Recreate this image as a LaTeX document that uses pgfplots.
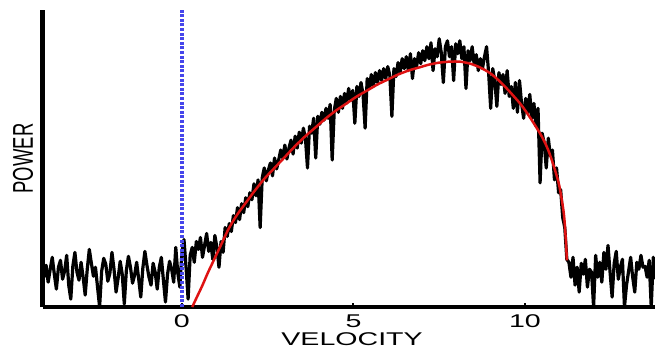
\documentclass[border=0pt]{standalone}
\usepackage{graphicx}
\usepackage{pgfplots}
\pgfplotsset{compat=1.18}
\usepackage{fontspec}
\setmainfont{Liberation Sans}
\definecolor{fitred}{RGB}{222,18,18}
\definecolor{zeroblue}{RGB}{70,70,235}
\begin{document}
\fontsize{18.5}{20}\selectfont
\begin{tikzpicture}
\path[use as bounding box] (-43bp,-41bp) rectangle (612bp,307bp);
\begin{axis}[
  at={(0,0)}, anchor=south west,
  scale only axis, width=612bp, height=297bp,
  xmin=-4.05, xmax=13.79, ymin=0, ymax=299,
  axis x line*=bottom, axis y line*=left,
  x axis line style={-, line width=3.5bp},
  y axis line style={-, line width=5bp},
  xtick={0,5,10},
  xticklabels={{\scalebox{1.55}[1]{0}},{\scalebox{1.55}[1]{5}},{\scalebox{1.55}[1]{10}}},
  ytick=\empty,
  tick align=inside, major tick length=4bp,
  tick style={line width=2bp, black},
  xticklabel style={anchor=center, yshift=-14bp},
  xlabel={\scalebox{1.55}[1]{VELOCITY}},
  ylabel={\scalebox{1}[1.55]{POWER}},
  xlabel style={at={(axis description cs:0.505,-0.108)}, anchor=center},
  ylabel style={at={(axis description cs:-0.0327,0.5)}, anchor=center},
  clip=true,
]
\addplot[black, line width=3.2bp, line join=round] coordinates {
(-4.02,30) (-3.96,42) (-3.90,25) (-3.84,38) (-3.78,50) (-3.72,33) (-3.66,18) (-3.60,40)
(-3.54,47) (-3.48,28) (-3.42,36) (-3.36,52) (-3.30,22) (-3.24,8) (-3.18,41) (-3.12,55)
(-3.06,35) (-3.00,27) (-2.94,45) (-2.88,30) (-2.82,12) (-2.76,38) (-2.70,58) (-2.64,44)
(-2.58,31) (-2.52,40) (-2.46,20) (-2.40,0) (-2.34,36) (-2.28,49) (-2.22,43) (-2.16,26)
(-2.10,34) (-2.04,55) (-1.98,38) (-1.92,15) (-1.86,29) (-1.80,46) (-1.74,33) (-1.68,3)
(-1.62,37) (-1.56,51) (-1.50,40) (-1.44,24) (-1.38,32) (-1.32,45) (-1.26,28) (-1.20,10)
(-1.14,39) (-1.08,56) (-1.02,42) (-0.96,30) (-0.90,22) (-0.84,44) (-0.78,35) (-0.72,18)
(-0.66,40) (-0.60,50) (-0.54,27) (-0.48,5) (-0.42,33) (-0.36,46) (-0.30,38) (-0.24,25)
(-0.18,60) (-0.12,34) (-0.06,20) (0.00,55) (0.06,68) (0.12,40) (0.18,8) (0.24,52)
(0.30,60) (0.36,45) (0.42,66) (0.48,58) (0.54,70) (0.60,50) (0.66,62) (0.72,74)
(0.78,56) (0.84,65) (0.90,48) (0.96,72) (1.02,60) (1.08,40) (1.14,66) (1.20,55)
(1.26,80) (1.32,71) (1.38,84) (1.44,76) (1.50,92) (1.56,85) (1.62,100) (1.68,88)
(1.74,104) (1.80,95) (1.86,110) (1.92,101) (1.98,115) (2.04,108) (2.10,124) (2.16,112)
(2.22,128) (2.28,80) (2.34,130) (2.40,140) (2.46,127) (2.52,138) (2.58,145) (2.64,132)
(2.70,150) (2.76,139) (2.82,148) (2.88,158) (2.94,150) (3.00,163) (3.06,149) (3.12,160)
(3.18,168) (3.24,154) (3.30,172) (3.36,160) (3.42,176) (3.48,165) (3.54,180) (3.60,170)
(3.66,140) (3.72,182) (3.78,175) (3.84,190) (3.90,150) (3.96,192) (4.02,184) (4.08,196)
(4.14,188) (4.20,200) (4.26,190) (4.32,204) (4.38,148) (4.44,198) (4.50,210) (4.56,196)
(4.62,212) (4.68,200) (4.74,215) (4.80,205) (4.86,220) (4.92,208) (4.98,218) (5.04,185)
(5.10,222) (5.16,212) (5.22,226) (5.28,214) (5.34,180) (5.40,230) (5.46,220) (5.52,234)
(5.58,222) (5.64,236) (5.70,226) (5.76,238) (5.82,228) (5.88,240) (5.94,230) (6.00,242)
(6.06,233) (6.12,192) (6.18,240) (6.24,232) (6.30,246) (6.36,236) (6.42,250) (6.48,240)
(6.54,252) (6.60,238) (6.66,255) (6.72,230) (6.78,250) (6.84,242) (6.90,256) (6.96,245)
(7.02,258) (7.08,248) (7.14,262) (7.20,250) (7.26,266) (7.32,238) (7.38,260) (7.44,252)
(7.50,270) (7.56,256) (7.62,226) (7.68,262) (7.74,268) (7.80,252) (7.86,262) (7.92,228)
(7.98,265) (8.04,255) (8.10,268) (8.16,250) (8.22,262) (8.28,220) (8.34,258) (8.40,248)
(8.46,262) (8.52,244) (8.58,254) (8.64,238) (8.70,250) (8.76,240) (8.82,252) (8.88,262)
(8.94,236) (9.00,200) (9.06,240) (9.12,228) (9.18,202) (9.24,236) (9.30,224) (9.36,234)
(9.42,215) (9.48,238) (9.54,212) (9.60,222) (9.66,200) (9.72,226) (9.78,196) (9.84,228)
(9.90,205) (9.96,190) (10.02,210) (10.08,195) (10.14,214) (10.20,190) (10.26,205) (10.32,182)
(10.38,200) (10.44,125) (10.50,175) (10.56,165) (10.62,140) (10.68,170) (10.74,152) (10.80,158)
(10.86,128) (10.92,140) (10.98,115) (11.04,118) (11.10,90) (11.16,80) (11.22,48) (11.28,45)
(11.34,30) (11.40,50) (11.46,22) (11.52,40) (11.58,15) (11.64,44) (11.70,33) (11.76,48)
(11.82,20) (11.88,38) (11.94,35) (12.00,0) (12.06,52) (12.12,30) (12.18,45) (12.24,25)
(12.30,55) (12.36,38) (12.42,62) (12.48,35) (12.54,10) (12.60,44) (12.66,56) (12.72,28)
(12.78,40) (12.84,48) (12.90,0) (12.96,22) (13.02,36) (13.08,50) (13.14,30) (13.20,15)
(13.26,45) (13.32,38) (13.38,52) (13.44,40) (13.50,41) (13.56,30) (13.62,47) (13.68,0)
(13.74,50) (13.80,28)
};
\addplot[fitred, line width=2.5bp, smooth, tension=0.5] coordinates {
(0.30,0) (0.45,11) (0.60,22) (0.75,34) (0.90,45) (1.05,56) (1.20,67) (1.35,78)
(1.50,87) (1.65,95) (1.80,102) (1.95,109) (2.10,116) (2.40,129) (2.70,140) (3.00,151)
(3.30,162) (3.60,172) (3.90,181) (4.20,190) (4.50,198) (4.80,205) (5.10,212) (5.40,218)
(5.70,224) (6.00,229) (6.30,234) (6.60,238) (6.90,241) (7.20,244) (7.50,246) (7.80,247)
(8.10,247) (8.40,245) (8.70,241) (9.00,235) (9.30,226) (9.60,215) (9.90,203) (10.20,188)
(10.50,171) (10.70,156) (10.90,135) (11.00,122) (11.10,102) (11.15,88) (11.20,62) (11.22,47)
};
\addplot[zeroblue, line width=4bp, line cap=butt, dash pattern=on 3bp off 1.6bp] coordinates {(0,0) (0,299)};
\end{axis}
\end{tikzpicture}
\end{document}
